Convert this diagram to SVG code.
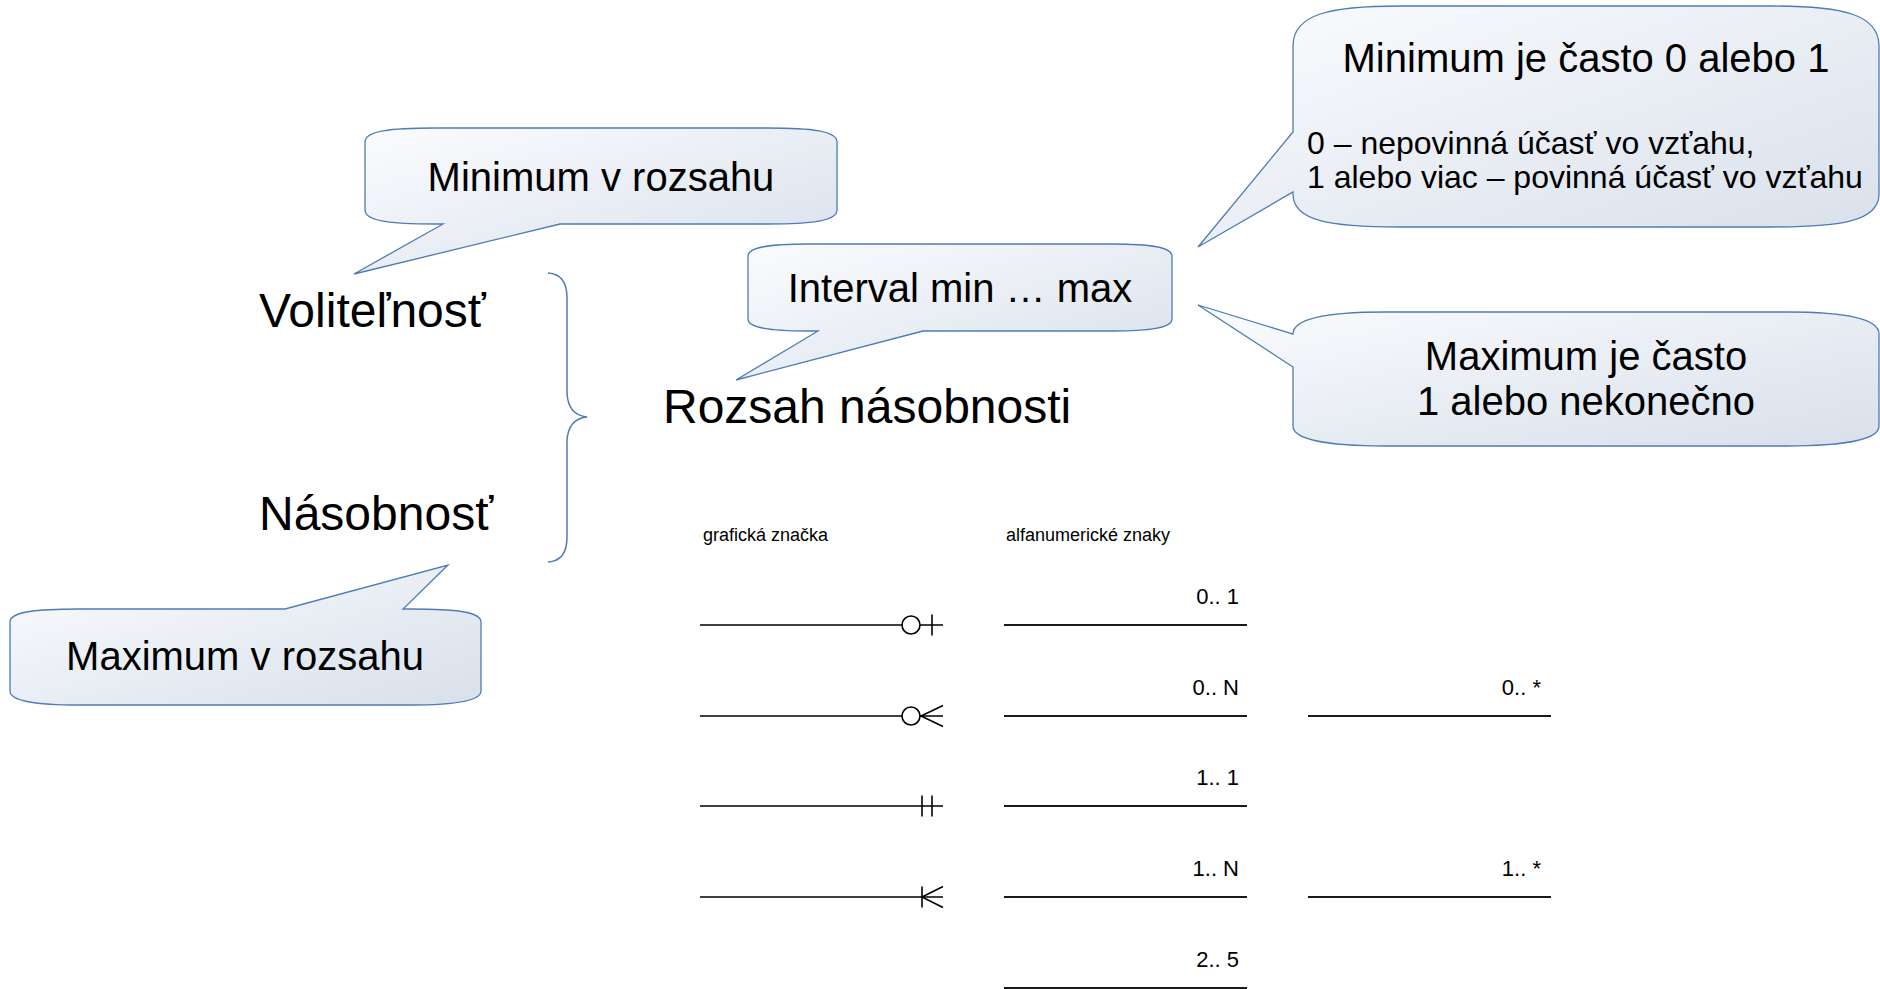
<svg xmlns="http://www.w3.org/2000/svg" width="1880" height="989" viewBox="0 0 1880 989">
  <defs>
    <linearGradient id="calloutFill" x1="0" y1="0" x2="1" y2="1">
      <stop offset="0" stop-color="#fbfcfe"/>
      <stop offset="1" stop-color="#d8e0eb"/>
    </linearGradient>
    <style>
      .callout { fill: url(#calloutFill); stroke: #4f7bb6; stroke-width: 1.3; stroke-linejoin: miter; }
      .txt { font-family: "Liberation Sans", Arial, sans-serif; fill: #000; }
      .big { font-size: 48px; }
      .mid { font-size: 40px; }
      .note { font-size: 32px; }
      .lbl { font-size: 22px; }
      .head { font-size: 18px; }
      .brace { fill: none; stroke: #4f7bb6; stroke-width: 1.5; }
      .rel { fill: none; stroke: #000; stroke-width: 1.6; }
      .alnum { fill: none; stroke: #1a1a1a; stroke-width: 2; }
    </style>
  </defs>
  <rect width="1880" height="989" fill="#ffffff"/>

  <!-- main terms -->
  <g id="term-volitelnost">
    <text class="txt big" x="259" y="327">Voliteľnosť</text>
  </g>
  <g id="term-nasobnost">
    <text class="txt big" x="259" y="530">Násobnosť</text>
  </g>
  <g id="term-rozsah">
    <text class="txt big" x="663" y="423">Rozsah násobnosti</text>
  </g>

  <!-- curly brace joining the two terms -->
  <g id="brace">
    <path class="brace" d="M548,273 Q567,274 567,298 L567,393 Q568,415 587,417 Q568,419 567,441 L567,537 Q567,561 548,562"/>
  </g>

  <!-- speech callouts -->
  <g id="callout-minimum">
    <path class="callout" d="M365,142 C365,131 390,128 435,128 L767,128 C812,128 837,131 837,142 L837,210 C837,221 812,224 767,224 L560,224 L354,274 L443,224 L435,224 C390,224 365,221 365,210 Z"/>
    <text class="txt mid" x="601" y="191" text-anchor="middle">Minimum v rozsahu</text>
  </g>

  <g id="callout-interval">
    <path class="callout" d="M748,256 C748,247 770,244 808,244 L1112,244 C1150,244 1172,247 1172,256 L1172,319 C1172,328 1150,331 1112,331 L923,331 L736,380 L818,331 L808,331 C770,331 748,328 748,319 Z"/>
    <text class="txt mid" x="960" y="302" text-anchor="middle">Interval min … max</text>
  </g>

  <g id="callout-maximum">
    <path class="callout" d="M10,622 C10,612 35,609 80,609 L285,609 L448,565 L403,609 L411,609 C456,609 481,612 481,622 L481,691 C481,701 456,705 411,705 L80,705 C35,705 10,701 10,691 Z"/>
    <text class="txt mid" x="245" y="670" text-anchor="middle">Maximum v rozsahu</text>
  </g>

  <g id="callout-minimum-often">
    <path class="callout" d="M1293,46 C1293,14 1330,6 1400,6 L1772,6 C1842,6 1879,14 1879,46 L1879,194 C1879,221 1842,227 1772,227 L1400,227 C1330,227 1293,221 1293,194 L1293,192 L1198,247 L1293,132 Z"/>
    <text class="txt mid" x="1586" y="72" text-anchor="middle">Minimum je často 0 alebo 1</text>
    <text class="txt note" x="1307" y="154">0 – nepovinná účasť vo vzťahu,</text>
    <text class="txt note" x="1307" y="188">1 alebo viac – povinná účasť vo vzťahu</text>
  </g>

  <g id="callout-maximum-often">
    <path class="callout" d="M1293,334 C1293,318 1330,312 1385,312 L1787,312 C1842,312 1879,318 1879,334 L1879,426 C1879,440 1842,446 1787,446 L1385,446 C1330,446 1293,440 1293,426 L1293,367 L1198,305 Z"/>
    <text class="txt mid" x="1586" y="370" text-anchor="middle">Maximum je často</text>
    <text class="txt mid" x="1586" y="415" text-anchor="middle">1 alebo nekonečno</text>
  </g>

  <!-- column headings -->
  <g id="heading-graphic">
    <text class="txt head" x="703" y="541">grafická značka</text>
  </g>
  <g id="heading-alnum">
    <text class="txt head" x="1006" y="541">alfanumerické znaky</text>
  </g>

  <!-- crow's foot notation samples -->
  <g id="connectors">
    <g id="sym-0-1">
      <line class="rel" x1="700" y1="625" x2="943" y2="625"/>
      <circle cx="911" cy="625" r="9" fill="#fff" stroke="#000" stroke-width="1.6"/>
      <line class="rel" x1="932" y1="614.5" x2="932" y2="635.5"/>
    </g>
    <g id="sym-0-n">
      <line class="rel" x1="700" y1="716" x2="943" y2="716"/>
      <circle cx="911" cy="716" r="9" fill="#fff" stroke="#000" stroke-width="1.6"/>
      <polyline class="rel" points="943,705.5 921,716 943,726.5"/>
    </g>
    <g id="sym-1-1">
      <line class="rel" x1="700" y1="806" x2="943" y2="806"/>
      <line class="rel" x1="922" y1="795.5" x2="922" y2="816.5"/>
      <line class="rel" x1="932" y1="795.5" x2="932" y2="816.5"/>
    </g>
    <g id="sym-1-n">
      <line class="rel" x1="700" y1="897" x2="943" y2="897"/>
      <line class="rel" x1="922" y1="886.5" x2="922" y2="907.5"/>
      <polyline class="rel" points="943,886.5 922,897 943,907.5"/>
    </g>

    <!-- alphanumeric notation -->
    <g id="alnum-0-1">
      <line class="alnum" x1="1004" y1="625" x2="1247" y2="625"/>
      <text class="txt lbl" x="1239" y="604" text-anchor="end">0.. 1</text>
    </g>
    <g id="alnum-0-n">
      <line class="alnum" x1="1004" y1="716" x2="1247" y2="716"/>
      <text class="txt lbl" x="1239" y="695" text-anchor="end">0.. N</text>
    </g>
    <g id="alnum-1-1">
      <line class="alnum" x1="1004" y1="806" x2="1247" y2="806"/>
      <text class="txt lbl" x="1239" y="785" text-anchor="end">1.. 1</text>
    </g>
    <g id="alnum-1-n">
      <line class="alnum" x1="1004" y1="897" x2="1247" y2="897"/>
      <text class="txt lbl" x="1239" y="876" text-anchor="end">1.. N</text>
    </g>
    <g id="alnum-2-5">
      <line class="alnum" x1="1004" y1="988" x2="1247" y2="988"/>
      <text class="txt lbl" x="1239" y="967" text-anchor="end">2.. 5</text>
    </g>
    <g id="alnum-0-star">
      <line class="alnum" x1="1308" y1="716" x2="1551" y2="716"/>
      <text class="txt lbl" x="1541" y="695" text-anchor="end">0.. *</text>
    </g>
    <g id="alnum-1-star">
      <line class="alnum" x1="1308" y1="897" x2="1551" y2="897"/>
      <text class="txt lbl" x="1541" y="876" text-anchor="end">1.. *</text>
    </g>
  </g>
</svg>
